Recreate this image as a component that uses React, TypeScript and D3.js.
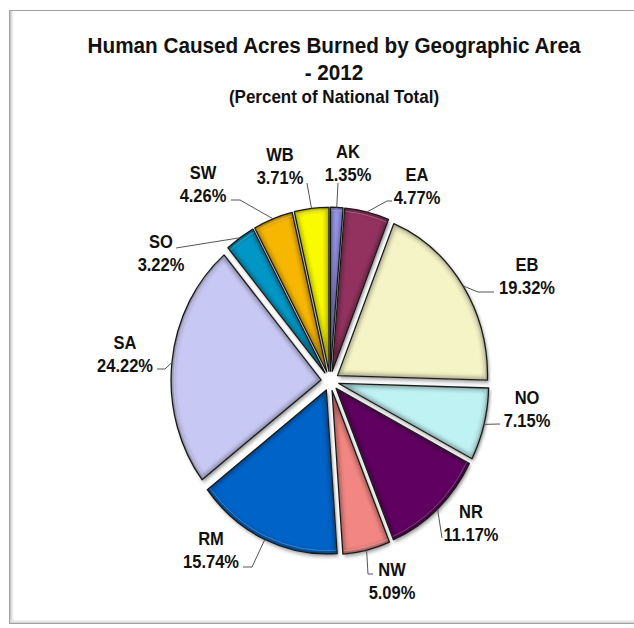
import React from "react";
import * as d3 from "d3";

const areas = ["AK", "EA", "EB", "NO", "NR", "NW", "RM", "SA", "SO", "SW", "WB"];
const percents = [1.35, 4.77, 19.32, 7.15, 11.17, 5.09, 15.74, 24.22, 3.22, 4.26, 3.71];
const colors = ["#9a9af0", "#93305f", "#f4f4c6", "#bff3f3", "#600060", "#f28682", "#0064c8", "#c8c8f4", "#0097c6", "#f7b600", "#fafa00"];
const titleLines = ["Human Caused Acres Burned by Geographic Area", "- 2012", "(Percent of National Total)"];

// layout for labels: name position, leader elbow/end points
const labelLayout: Record<string, { x: number; y: number; pts: [number, number][] }> = {
  AK: { x: 348, y: 152, pts: [[338, 183]] },
  EA: { x: 417, y: 175, pts: [[387, 201], [392, 201]] },
  EB: { x: 527, y: 265, pts: [[478, 292], [494, 292]] },
  NO: { x: 527, y: 398, pts: [[500, 424]] },
  NR: { x: 471, y: 512, pts: [[442, 538]] },
  NW: { x: 392, y: 570, pts: [[368, 574], [373, 574]] },
  RM: { x: 211, y: 539, pts: [[252, 567], [243, 567]] },
  SA: { x: 125, y: 343, pts: [[165, 369], [157, 369]] },
  SO: { x: 161, y: 242, pts: [[176, 248]] },
  SW: { x: 203, y: 173, pts: [[240, 200], [231, 200]] },
  WB: { x: 280, y: 155, pts: [[307, 183]] },
};

const W = 634;
const H = 628;
const cx = 330;
const cy = 381;
const R = 150;
const K = 1.093; // vertical stretch
const EXPLODE = 9;

export default function App() {
  const data = areas.map((a, i) => ({ area: a, value: percents[i], color: colors[i] }));
  const pie = d3.pie<any>().sort(null).value((d: any) => d.value).startAngle(0).endAngle(2 * Math.PI);
  const arcs = pie(data);
  const arcGen = d3.arc<any>().innerRadius(0).outerRadius(R);
  const innerArc = d3.arc<any>().innerRadius(0).outerRadius(R - 3);
  const font = "'Liberation Sans', Arial, sans-serif";

  return (
    <svg width={W} height={H} style={{ position: "absolute", left: 0, top: 0, background: "#fff" }}>
      <defs>
        <linearGradient id="leftShadow" x1="0" x2="1" y1="0" y2="0">
          <stop offset="0" stopColor="#b8b8b8" />
          <stop offset="1" stopColor="#ffffff" stopOpacity="0" />
        </linearGradient>
        <linearGradient id="bottomShadow" x1="0" x2="0" y1="0" y2="1">
          <stop offset="0" stopColor="#ffffff" stopOpacity="0" />
          <stop offset="1" stopColor="#cfcfcf" />
        </linearGradient>
        <filter id="shadow" x="-20%" y="-20%" width="140%" height="140%">
          <feDropShadow dx="1.5" dy="2" stdDeviation="1.8" floodColor="#000" floodOpacity="0.45" />
        </filter>
        <filter id="bevel" x="-5%" y="-5%" width="110%" height="110%">
          <feGaussianBlur stdDeviation="2" />
        </filter>
      </defs>
      {/* frame */}
      <rect x={9.5} y={10.5} width={640} height={613} fill="none" stroke="#a0a0a0" strokeWidth={1} />
      <rect x={10} y={11} width={5} height={612} fill="url(#leftShadow)" />
      <rect x={10} y={618} width={640} height={5} fill="url(#bottomShadow)" />

      {/* title */}
      {titleLines.map((t, i) => (
        <text
          key={i}
          transform={`translate(334, ${[53, 80, 103][i]}) scale(1, ${K})`}
          textAnchor="middle"
          fontFamily={font}
          fontWeight="bold"
          fontSize={[20.7, 20.7, 17][i]}
          fill="#111"
        >
          {t}
        </text>
      ))}

      {/* slices */}
      <g transform={`translate(${cx}, ${cy}) scale(1, ${K})`}>
        {arcs.map((a, i) => {
          const mid = (a.startAngle + a.endAngle) / 2;
          const dx = EXPLODE * Math.sin(mid);
          const dy = -EXPLODE * Math.cos(mid);
          return (
            <g key={i} transform={`translate(${dx}, ${dy})`}>
              <clipPath id={`clip${i}`}>
                <path d={arcGen(a) as string} />
              </clipPath>
              <path d={arcGen(a) as string} fill={a.data.color} filter="url(#shadow)" />
              <path d={arcGen(a) as string} fill="none" stroke="#000" strokeOpacity={0.35} strokeWidth={5} vectorEffect="non-scaling-stroke" filter="url(#bevel)" clipPath={`url(#clip${i})`} />
              <path d={innerArc(a) as string} fill="none" stroke="#fff" strokeOpacity={0.25} strokeWidth={1} vectorEffect="non-scaling-stroke" />
              <path d={arcGen(a) as string} fill="none" stroke="#1a1a1a" strokeWidth={1.3} strokeLinejoin="round" vectorEffect="non-scaling-stroke" />
            </g>
          );
        })}
      </g>

      {/* leader lines and labels */}
      {arcs.map((a, i) => {
        const mid = (a.startAngle + a.endAngle) / 2;
        const rr = R + EXPLODE;
        const sx = cx + rr * Math.sin(mid);
        const sy = cy - rr * Math.cos(mid) * K;
        const lay = labelLayout[a.data.area];
        const pts: [number, number][] = [[sx, sy], ...lay.pts];
        const line = d3.line()(pts) as string;
        return (
          <g key={"l" + i}>
            <path d={line} fill="none" stroke="#555" strokeWidth={1} />
            <text transform={`translate(${lay.x}, ${lay.y + 6}) scale(1, ${K})`} textAnchor="middle" fontFamily={font} fontWeight="bold" fontSize={16.5} fill="#111">
              {a.data.area}
            </text>
            <text transform={`translate(${lay.x}, ${lay.y + 29}) scale(1, ${K})`} textAnchor="middle" fontFamily={font} fontWeight="bold" fontSize={16.5} fill="#111">
              {a.data.value.toFixed(2) + "%"}
            </text>
          </g>
        );
      })}
    </svg>
  );
}
